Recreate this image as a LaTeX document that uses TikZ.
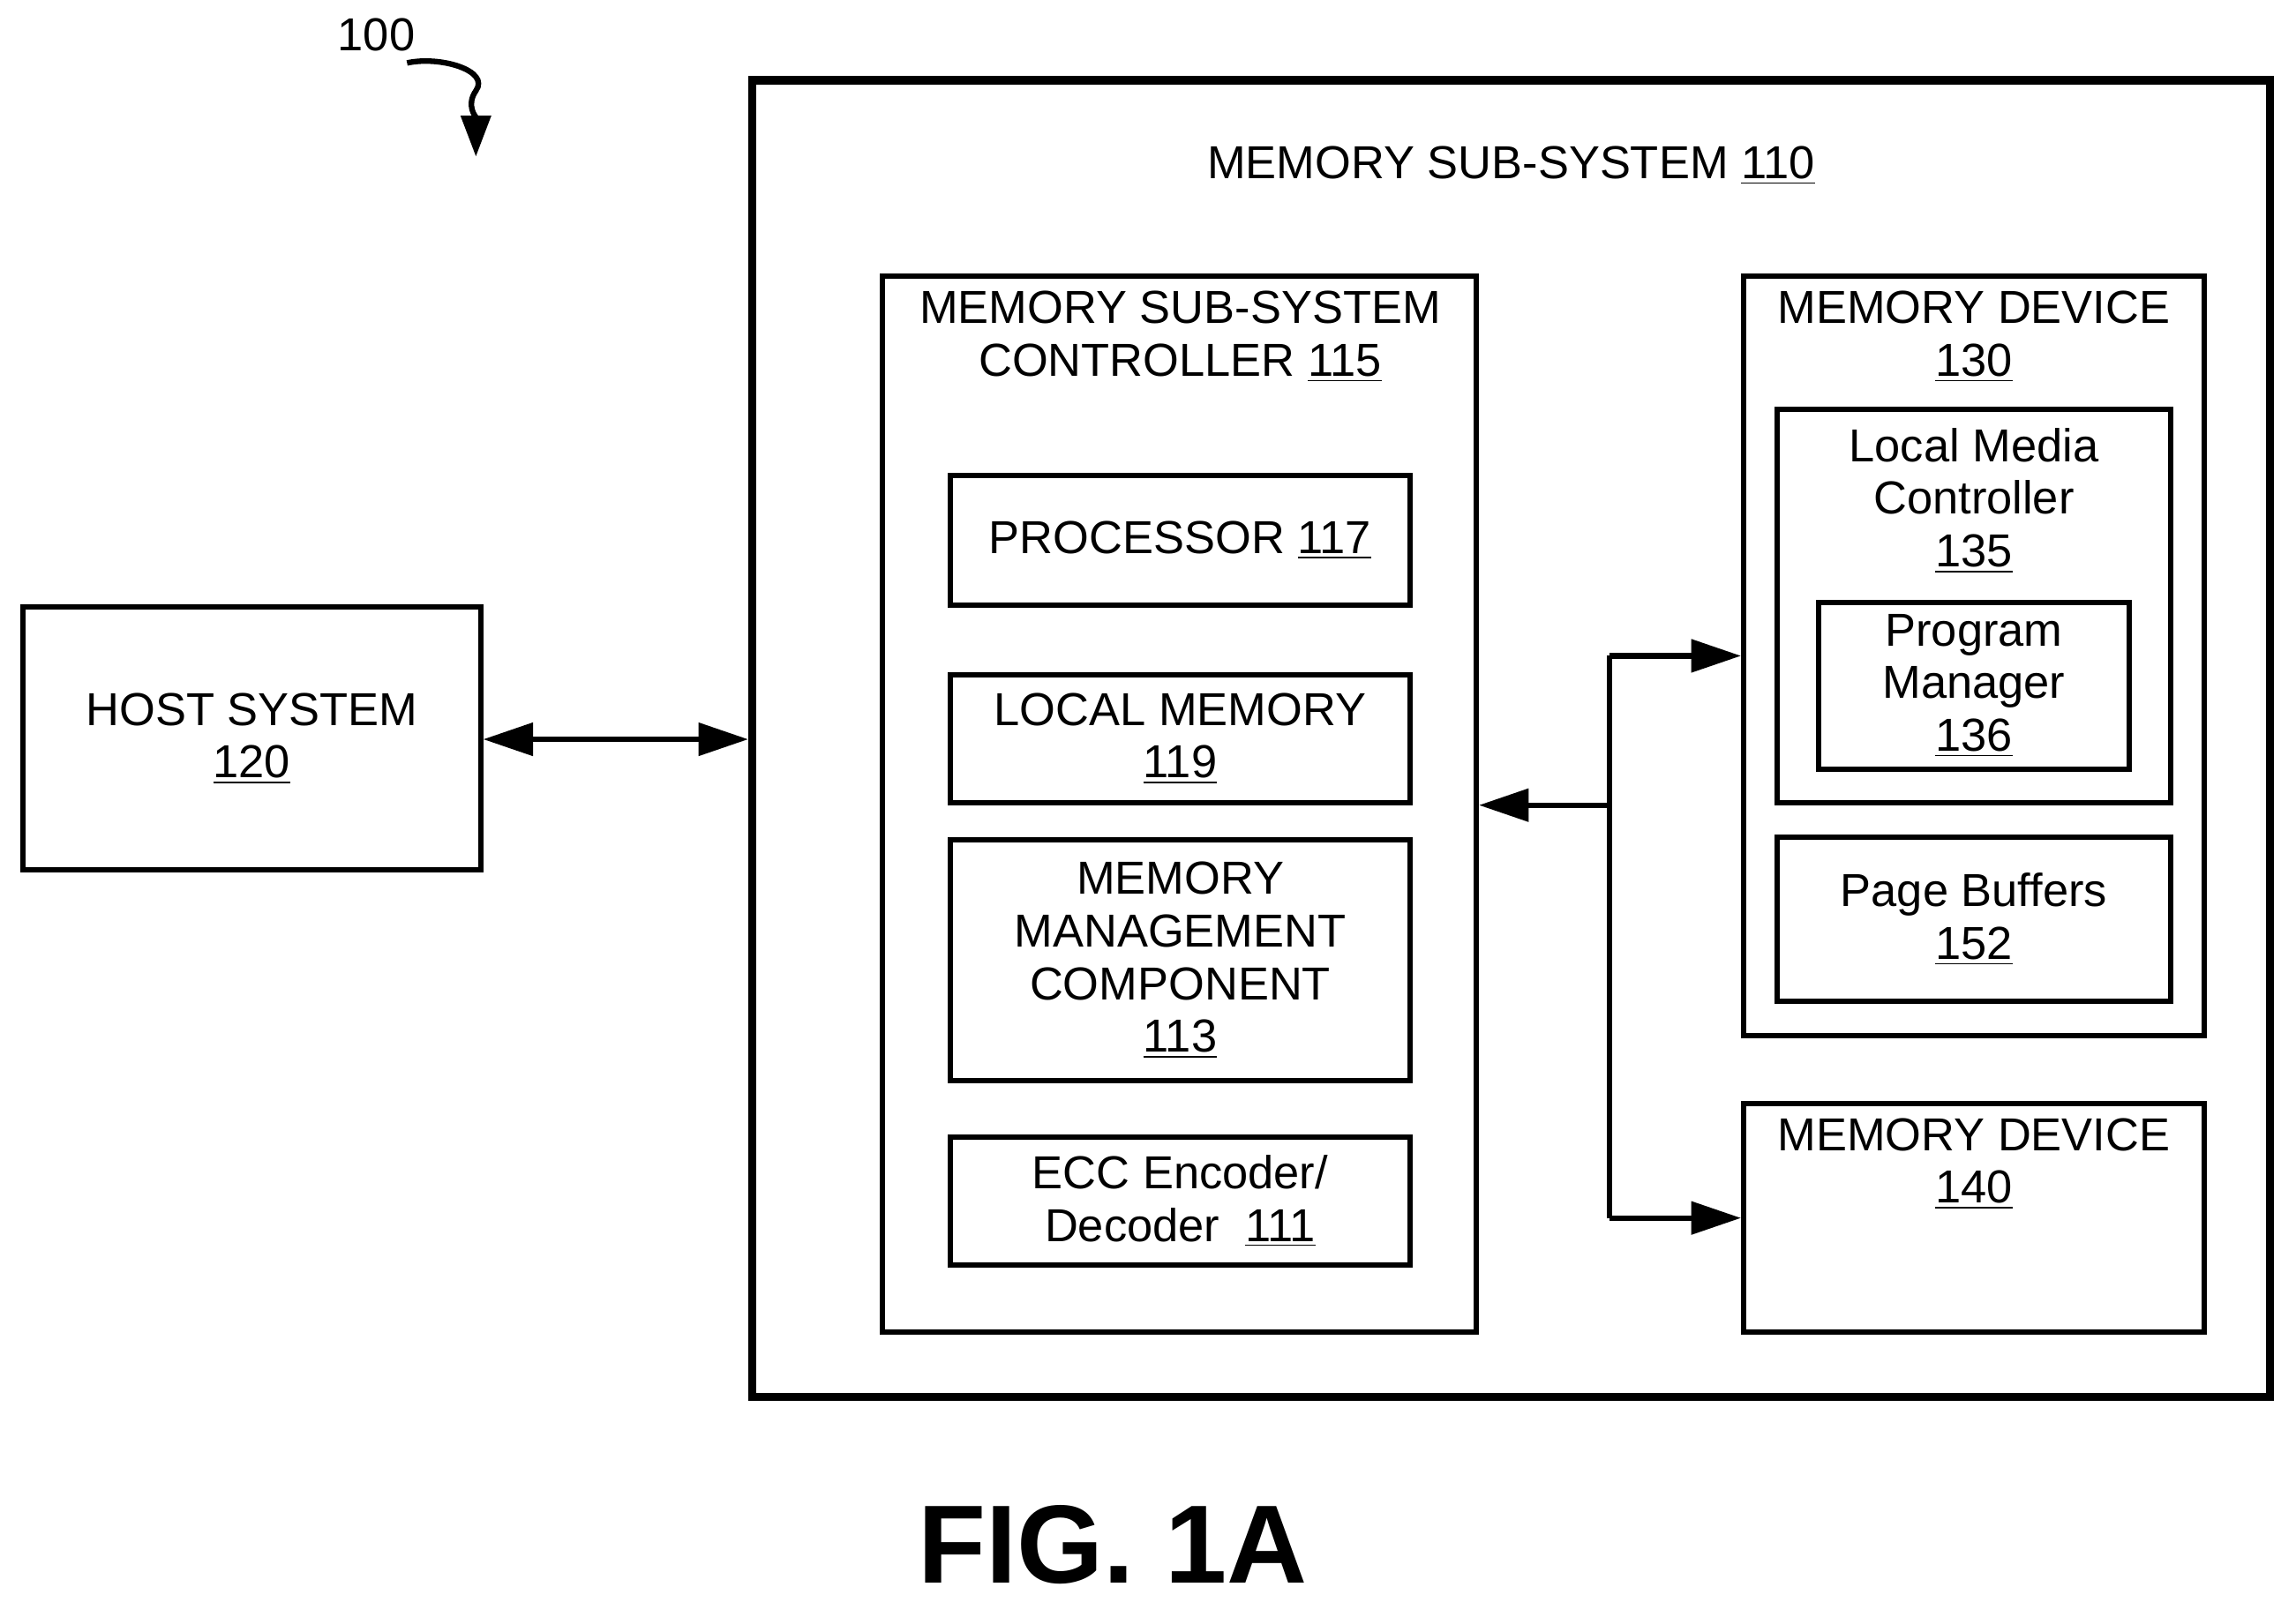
\documentclass[tikz,border=0pt]{standalone}
\usepackage{fontspec}
\setmainfont{Liberation Sans}
\usetikzlibrary{arrows.meta}
\begin{document}
\begin{tikzpicture}[x=0.5pt,y=-0.5pt,
 box/.style={draw,line width=1.8pt,inner sep=0pt},
 lbl/.style={font=\fontsize{15.8}{18}\selectfont,align=center,inner sep=0pt},
 arr/.style={line width=1.9pt,-{Triangle[length=17pt,width=11pt]}},
 darr/.style={line width=1.9pt,{Triangle[length=17pt,width=11pt]}-{Triangle[length=17pt,width=11pt]}}]
\useasboundingbox (0,0) rectangle (1568,1094);
\def\bx#1#2#3#4#5{\node[box,minimum width=#4*0.5pt-1.8pt,minimum height=#5*0.5pt-1.8pt] (#1) at ({#2+#4/2},{#3+#5/2}) {};}
% outer
\node[draw,line width=2.8pt,minimum width=1042*0.5pt-2.8pt,minimum height=905*0.5pt-2.8pt,inner sep=0pt] (mss) at (1032,504.5) {};
\node[lbl] (msst) at (1032,113) {MEMORY SUB-SYSTEM \underline{110}};
\bx{host}{14}{413}{316}{183}
\node[lbl] at (host) {HOST SYSTEM\\\underline{120}};
\bx{ctrl}{601}{187}{409}{725}
\node[lbl] (ctrlt) at (806,230) {MEMORY SUB-SYSTEM\\CONTROLLER \underline{115}};
\bx{proc}{647}{323}{318}{92}
\node[lbl] at (proc) {PROCESSOR \underline{117}};
\bx{lm}{647}{459}{318}{91}
\node[lbl] at (lm) {LOCAL MEMORY\\\underline{119}};
\bx{mmc}{647}{572}{318}{168}
\node[lbl] at (mmc) {MEMORY\\MANAGEMENT\\COMPONENT\\\underline{113}};
\bx{ecc}{647}{775}{318}{91}
\node[lbl] at (ecc) {ECC Encoder/\\Decoder\ \ \underline{111}};
\bx{md1}{1189}{187}{318}{522}
\node[lbl] (md1t) at (1348,230) {MEMORY DEVICE\\\underline{130}};
\bx{lmc}{1212}{278}{272}{272}
\node[lbl] (lmct) at (1348,342) {Local Media\\Controller\\\underline{135}};
\bx{pm}{1240}{410}{216}{117}
\node[lbl] at (pm) {Program\\Manager\\\underline{136}};
\bx{pb}{1212}{570}{272}{116}
\node[lbl] at (pb) {Page Buffers\\\underline{152}};
\bx{md2}{1189}{752}{318}{160}
\node[lbl] (md2t) at (1348,795) {MEMORY DEVICE\\\underline{140}};
% connectors
\draw[darr] (host.east |- 0,505) -- (mss.west |- 0,505);
\coordinate (j) at (1099,550);
\coordinate (jt) at (1099,448);
\coordinate (jb) at (1099,832);
\draw[arr] (j) -- (ctrl.east |- j);
\draw[line width=1.9pt] (jt) -- (jb);
\draw[arr] (jt) -- (md1.west |- jt);
\draw[arr] (jb) -- (md2.west |- jb);
% 100
\node[lbl] (n100) at (257,24) {100};
\coordinate (s0) at (278,43);
\draw[line width=1.9pt,-{Triangle[length=14pt,width=10pt]}] (s0) .. controls (300,38) and (335,48) .. (325,62) .. controls (318,72) and (325,80) .. (325,107);
\node[font=\bfseries\fontsize{38}{40}\selectfont,inner sep=0pt] (fig) at (760,1055) {FIG. 1A};
\end{tikzpicture}
\end{document}
